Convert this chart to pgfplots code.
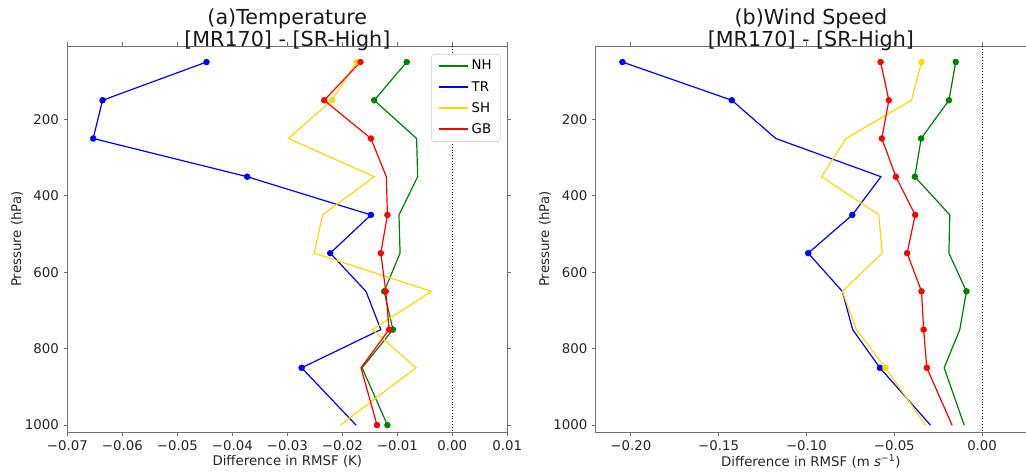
\documentclass[border=0pt]{standalone}
\usepackage{fontspec}
\setmainfont{DejaVu Sans}
\usepackage{pgfplots}
\pgfplotsset{compat=1.18}
\definecolor{cNH}{RGB}{0,128,0}
\definecolor{cTR}{RGB}{0,0,255}
\definecolor{cSH}{RGB}{255,215,0}
\definecolor{cGB}{RGB}{255,0,0}
\definecolor{spine}{HTML}{707070}
\pgfplotsset{
  every axis/.append style={
    scale only axis,
    height=289.5pt,
    y dir=reverse,
    ymin=8, ymax=1018,
    ytick={200,400,600,800,1000},
    yticklabels={200,400,600,800,1000},
    scaled x ticks=false,
    tick align=outside,
    major tick length=2.8pt,
    axis line style={spine, line width=0.6pt},
    every tick/.style={spine, line width=0.6pt},
    tick label style={font=\fontsize{10}{12}\selectfont, text=black!85},
    label style={font=\fontsize{10}{12}\selectfont, text=black!85},
    every axis title shift=0pt,
    title style={font=\fontsize{15.5}{14.6}\selectfont, align=center, at={(0.5,1)}, anchor=south, inner sep=0pt, yshift=-3.5pt, text=black!90},
    xlabel style={at={(axis description cs:0.5,0)}, anchor=center, yshift=-22pt},
    ylabel={Pressure (hPa)},
    clip=true,
  },
  ln/.style={line width=0.9pt, forget plot},
  mk/.style={only marks, mark=*, mark size=2.2pt, forget plot},
}
\begin{document}
\begin{tikzpicture}
\begin{axis}[
  at={(0pt,0pt)}, anchor=south west,
  width=330pt,
  xmin=-0.07, xmax=0.01,
  xtick={-0.07,-0.06,-0.05,-0.04,-0.03,-0.02,-0.01,0,0.01},
  xticklabels={−0.07,−0.06,−0.05,−0.04,−0.03,−0.02,−0.01,0.00,0.01},
  title={(a)Temperature\\{}[MR170] - [SR-High]},
  xlabel={Difference in RMSF (K)},
  ylabel style={at={(axis description cs:-0.1143,0.5)}, anchor=center},
  legend style={at={(1,1)}, anchor=north east, xshift=-5pt, yshift=-6pt,
    draw=black!20, rounded corners=2pt, fill=white,
    font=\fontsize{10}{12}\selectfont, row sep=3pt, inner xsep=4.5pt, inner ysep=2.5pt},
  legend cell align=left,
  legend image code/.code={\draw[#1] (0pt,0.3pt) -- (22pt,0.3pt);},
]
\addlegendimage{draw=cNH, line width=1.3pt}\addlegendentry{NH}
\addlegendimage{draw=cTR, line width=1.7pt}\addlegendentry{TR}
\addlegendimage{draw=cSH, line width=1.3pt}\addlegendentry{SH}
\addlegendimage{draw=cGB, line width=1.3pt}\addlegendentry{GB}
\addplot[black, line width=0.8pt, dash pattern=on 0.8pt off 1.3pt, forget plot] coordinates {(0,8) (0,1018)};
% NH
\addplot[ln, color=cNH] coordinates {(-0.0083,50) (-0.0142,150) (-0.0065,250) (-0.0063,350) (-0.0097,450) (-0.0095,550) (-0.0124,650) (-0.0108,750) (-0.0164,850) (-0.0118,1000)};
\addplot[mk, color=cNH] coordinates {(-0.0083,50) (-0.0142,150) (-0.0124,650) (-0.0108,750) (-0.0118,1000)};
% TR
\addplot[ln, color=cTR] coordinates {(-0.0447,50) (-0.0636,150) (-0.0653,250) (-0.0373,350) (-0.0148,450) (-0.0222,550) (-0.0157,650) (-0.0130,750) (-0.0274,850) (-0.0175,1000)};
\addplot[mk, color=cTR] coordinates {(-0.0447,50) (-0.0636,150) (-0.0653,250) (-0.0373,350) (-0.0148,450) (-0.0222,550) (-0.0274,850)};
% SH
\addplot[ln, color=cSH] coordinates {(-0.0174,50) (-0.0219,150) (-0.0298,250) (-0.0142,350) (-0.0236,450) (-0.0251,550) (-0.0038,650) (-0.0145,750) (-0.0066,850) (-0.0204,1000)};
\addplot[mk, color=cSH] coordinates {(-0.0174,50) (-0.0219,150)};
% GB
\addplot[ln, color=cGB] coordinates {(-0.0167,50) (-0.0233,150) (-0.0148,250) (-0.0120,350) (-0.0118,450) (-0.0130,550) (-0.0121,650) (-0.0115,750) (-0.0166,850) (-0.0137,1000)};
\addplot[mk, color=cGB] coordinates {(-0.0167,50) (-0.0233,150) (-0.0148,250) (-0.0118,450) (-0.0130,550) (-0.0121,650) (-0.0115,750) (-0.0137,1000)};
\end{axis}
\begin{axis}[
  at={(396.3pt,0pt)}, anchor=south west,
  width=322.7pt,
  xmin=-0.22, xmax=0.025,
  xtick={-0.20,-0.15,-0.10,-0.05,0},
  xticklabels={−0.20,−0.15,−0.10,−0.05,0.00},
  title={(b)Wind Speed\\{}[MR170] - [SR-High]},
  xlabel={Difference in RMSF (m {\itshape s}\textsuperscript{−1})},
  ylabel style={at={(axis description cs:-0.1178,0.5)}, anchor=center},
]
\addplot[black, line width=0.8pt, dash pattern=on 0.8pt off 1.3pt, forget plot] coordinates {(0,8) (0,1018)};
% NH
\addplot[ln, color=cNH] coordinates {(-0.0150,50) (-0.0189,150) (-0.0347,250) (-0.0383,350) (-0.0184,450) (-0.0189,550) (-0.0089,650) (-0.0127,750) (-0.0216,850) (-0.0102,1000)};
\addplot[mk, color=cNH] coordinates {(-0.0150,50) (-0.0189,150) (-0.0347,250) (-0.0383,350) (-0.0089,650)};
% TR
\addplot[ln, color=cTR] coordinates {(-0.2048,50) (-0.1425,150) (-0.1175,250) (-0.0576,350) (-0.0739,450) (-0.0990,550) (-0.0796,650) (-0.0737,750) (-0.0582,850) (-0.0294,1000)};
\addplot[mk, color=cTR] coordinates {(-0.2048,50) (-0.1425,150) (-0.0739,450) (-0.0990,550) (-0.0582,850)};
% SH
\addplot[ln, color=cSH] coordinates {(-0.0345,50) (-0.0402,150) (-0.0775,250) (-0.0914,350) (-0.0588,450) (-0.0569,550) (-0.0796,650) (-0.0715,750) (-0.0550,850) (-0.0322,1000)};
\addplot[mk, color=cSH] coordinates {(-0.0345,50) (-0.0550,850)};
% GB
\addplot[ln, color=cGB] coordinates {(-0.0578,50) (-0.0531,150) (-0.0571,250) (-0.0491,350) (-0.0381,450) (-0.0427,550) (-0.0345,650) (-0.0333,750) (-0.0315,850) (-0.0171,1000)};
\addplot[mk, color=cGB] coordinates {(-0.0578,50) (-0.0531,150) (-0.0571,250) (-0.0491,350) (-0.0381,450) (-0.0427,550) (-0.0345,650) (-0.0333,750) (-0.0315,850)};
\end{axis}
\pgfresetboundingbox
\path[use as bounding box] (-50.5pt,-31.5pt) rectangle (719pt,324pt);
\end{tikzpicture}
\end{document}
